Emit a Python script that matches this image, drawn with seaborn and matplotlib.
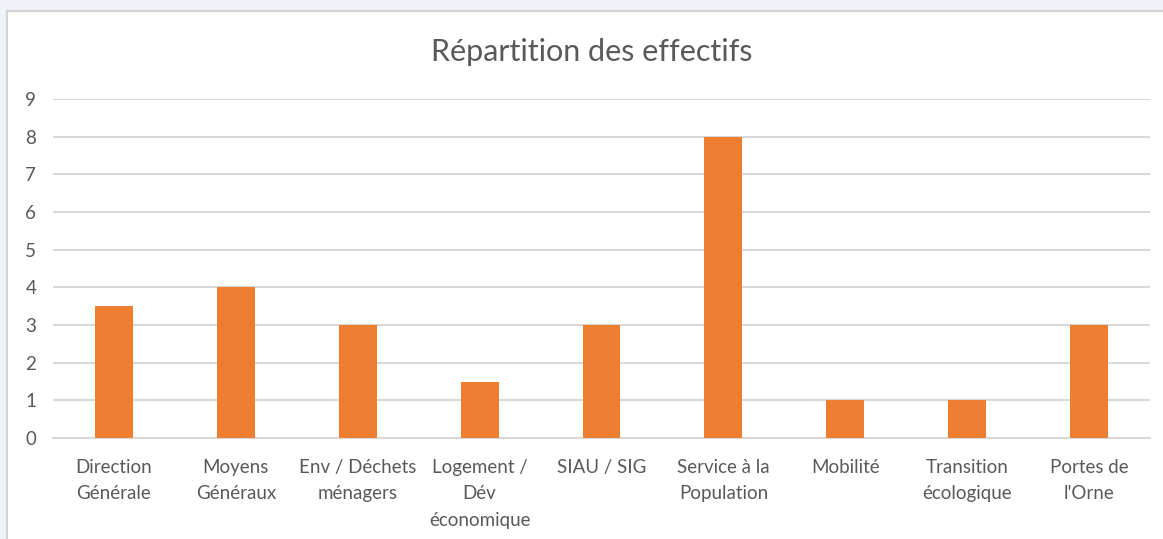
import pandas as pd
import seaborn as sns
import matplotlib.pyplot as plt
from matplotlib.patches import Rectangle

services = ["Direction\nGénérale", "Moyens\nGénéraux", "Env / Déchets\nménagers",
            "Logement /\nDév\néconomique", "SIAU / SIG", "Service à la\nPopulation",
            "Mobilité", "Transition\nécologique", "Portes de\nl'Orne"]
effectifs = [3.5, 4, 3, 1.5, 3, 8, 1, 1, 3]
y_ticks = list(range(0, 10))

df = pd.DataFrame({"service": services, "effectif": effectifs})

sns.set_style("white")
plt.rcParams["font.family"] = ["Lato", "DejaVu Sans"]

fig = plt.figure(figsize=(11.63, 5.39), dpi=100)
fig.patch.set_facecolor("#eff3f7")
# white chart frame like the Excel chart box
frame = Rectangle((7 / 1163, -0.01), 1.0, 1.01 - 11 / 539, transform=fig.transFigure,
                  facecolor="white", edgecolor="#d4d4d4", linewidth=1.5, zorder=-10)
fig.patches.append(frame)

ax = fig.add_axes([53 / 1163, 1 - 438 / 539, (1150 - 53) / 1163, (438 - 99) / 539])
ax.set_facecolor("none")
sns.barplot(data=df, x="service", y="effectif", color="#ed7d31", width=0.31,
            saturation=1, linewidth=0, ax=ax, zorder=3)

ax.set_ylim(0, 9)
ax.set_yticks(y_ticks)
ax.grid(axis="y", color="#d9d9d9", linewidth=1.5, zorder=0)
ax.set_axisbelow(True)
for side in ["top", "right", "left"]:
    ax.spines[side].set_visible(False)
ax.spines["bottom"].set_color("#d9d9d9")
ax.spines["bottom"].set_linewidth(1.5)
ax.tick_params(axis="both", length=0, labelsize=13.5, colors="#595959")
ax.tick_params(axis="x", pad=15)
ax.tick_params(axis="y", pad=12)
for lbl in ax.get_xticklabels():
    lbl.set_linespacing(1.68)
ax.set_xlabel("")
ax.set_ylabel("")

fig.text(592 / 1163, 1 - 52 / 539, "Répartition des effectifs", ha="center", va="center",
         fontsize=22, color="#595959")

plt.savefig("out.png", dpi=100, facecolor=fig.get_facecolor())
plt.close()
